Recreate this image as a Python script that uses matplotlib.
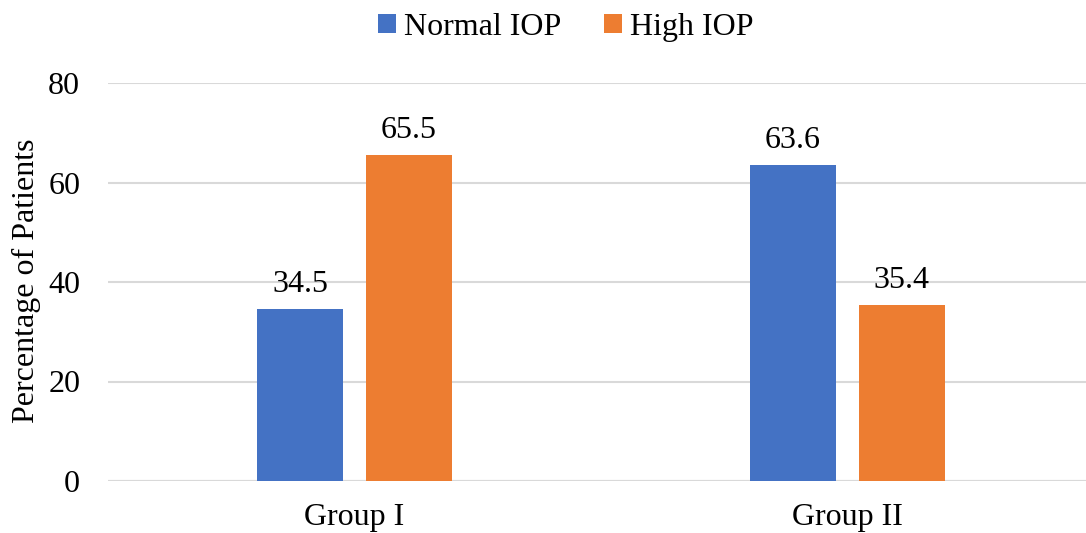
import matplotlib.pyplot as plt
import numpy as np

groups = ["Group I", "Group II"]
normal_iop = [34.5, 63.6]
high_iop = [65.5, 35.4]
y_ticks = [0, 20, 40, 60, 80]

plt.rcParams['font.family'] = ['Liberation Serif', 'DejaVu Serif']

fig = plt.figure(figsize=(10.86, 5.33), dpi=100)
ax = fig.add_axes([108 / 1086, 1 - 481 / 533, 1 - 108 / 1086, (481 - 83) / 533])

x = np.arange(len(groups))
w = 0.1744
off = 0.1105
b1 = ax.bar(x - off, normal_iop, w, color="#4472C4", label="Normal IOP", zorder=3)
b2 = ax.bar(x + off, high_iop, w, color="#ED7D31", label="High IOP", zorder=3)

for bars in (b1, b2):
    for rect in bars:
        h = rect.get_height()
        ax.text(rect.get_x() + rect.get_width() / 2, h + 2.0, f"{h:.1f}",
                ha="center", va="bottom", fontsize=23)

ax.set_xlim(-0.5, 1.484)
ax.set_ylim(0, 80)
ax.set_yticks(y_ticks)
ax.set_xticks(x)
ax.set_xticklabels(groups)
ax.tick_params(axis="both", length=0, labelsize=23)
ax.tick_params(axis="y", pad=20)
ax.tick_params(axis="x", pad=16)
ax.grid(axis="y", color="#d9d9d9", linewidth=1.5, zorder=0)
for s in ax.spines.values():
    s.set_visible(False)
ax.axhline(0, color="#d9d9d9", linewidth=1.5, zorder=2)

# y label placed at figure coordinates so it stays inside the canvas
fig.text(26 / 1086, 1 - 281 / 533, "Percentage of Patients", rotation=90,
         ha="center", va="center", fontsize=23)

fig.legend(loc="center", bbox_to_anchor=(0.521, 1 - 27 / 533), ncol=2, frameon=False,
           fontsize=23, handlelength=0.55, handleheight=0.55, handletextpad=0.25,
           columnspacing=1.35)

fig.savefig("out.png", dpi=100)
